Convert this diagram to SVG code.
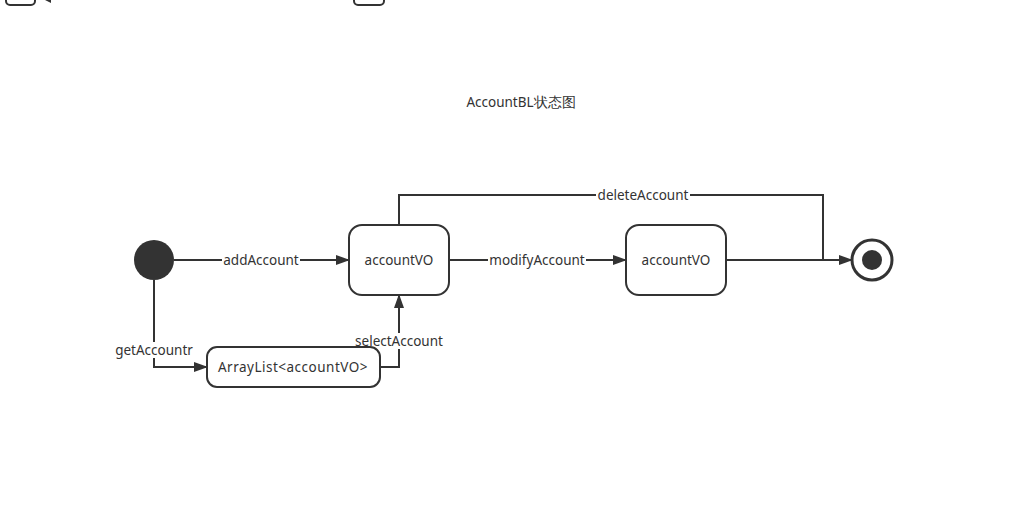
<svg xmlns="http://www.w3.org/2000/svg" width="1017" height="521" viewBox="0 0 1017 521">
<style>
.st{fill:#fff;stroke:#333;stroke-width:2}
.ln{fill:none;stroke:#333;stroke-width:2}
.t{font-family:"Noto Sans","Open Sans",sans-serif;font-size:13.5px;fill:#333;text-anchor:middle;dominant-baseline:central}
.lb{font-family:"Noto Sans","Open Sans",sans-serif;font-size:13.5px;fill:#333;text-anchor:middle;dominant-baseline:central}
.bg{fill:#fff}
</style>
<defs>
<marker id="ar" viewBox="0 0 14 10" refX="13" refY="5" markerWidth="14" markerHeight="10" markerUnits="userSpaceOnUse" orient="auto">
<path d="M0,0 L14,5 L0,10 Z" fill="#333"/>
</marker>
</defs>
<rect width="1017" height="521" fill="#fff"/>
<g id="partial">
<rect class="st" x="6" y="-30" width="29" height="35" rx="4"/>
<rect class="st" x="354" y="-30" width="30" height="35" rx="4"/>
<path d="M45,0 L51,-3 L51,3 Z" fill="#333"/>
</g>
<text class="t" x="521" y="102">AccountBL状态图</text>
<g id="connectors">
<path class="ln" d="M174,260 H349" marker-end="url(#ar)"/>
<path class="ln" d="M449,260 H626" marker-end="url(#ar)"/>
<path class="ln" d="M726,260 H852" marker-end="url(#ar)"/>
<path class="ln" d="M399,225 V195 H823 V260"/>
<path class="ln" d="M154,280 V367 H207" marker-end="url(#ar)"/>
<path class="ln" d="M380,367 H399 V295" marker-end="url(#ar)"/>
<rect class="bg" x="222" y="252" width="78" height="16"/>
<text class="lb" x="261" y="260">addAccount</text>
<rect class="bg" x="488" y="252" width="98" height="16"/>
<text class="lb" x="537" y="260">modifyAccount</text>
<rect class="bg" x="596" y="187" width="94" height="16"/>
<text class="lb" x="643" y="195">deleteAccount</text>
<rect class="bg" x="114" y="342" width="80" height="16"/>
<text class="lb" x="154" y="350">getAccountr</text>
<rect class="bg" x="353" y="333" width="92" height="16"/>
<text class="lb" x="399" y="341">selectAccount</text>
</g>
<g id="start"><circle cx="154" cy="260" r="20" fill="#333"/></g>
<g id="vo1"><rect class="st" x="349" y="225" width="100" height="70" rx="13"/><text class="t" x="399" y="260">accountVO</text></g>
<g id="vo2"><rect class="st" x="626" y="225" width="100" height="70" rx="13"/><text class="t" x="676" y="260">accountVO</text></g>
<g id="list"><rect class="st" x="207" y="347" width="173" height="40" rx="10"/><text class="t" x="293" y="367" letter-spacing="0.5">ArrayList&lt;accountVO&gt;</text></g>
<g id="end"><circle cx="872" cy="260" r="20" fill="#fff" stroke="#333" stroke-width="3"/><circle cx="872" cy="260" r="10" fill="#333"/></g>
</svg>
